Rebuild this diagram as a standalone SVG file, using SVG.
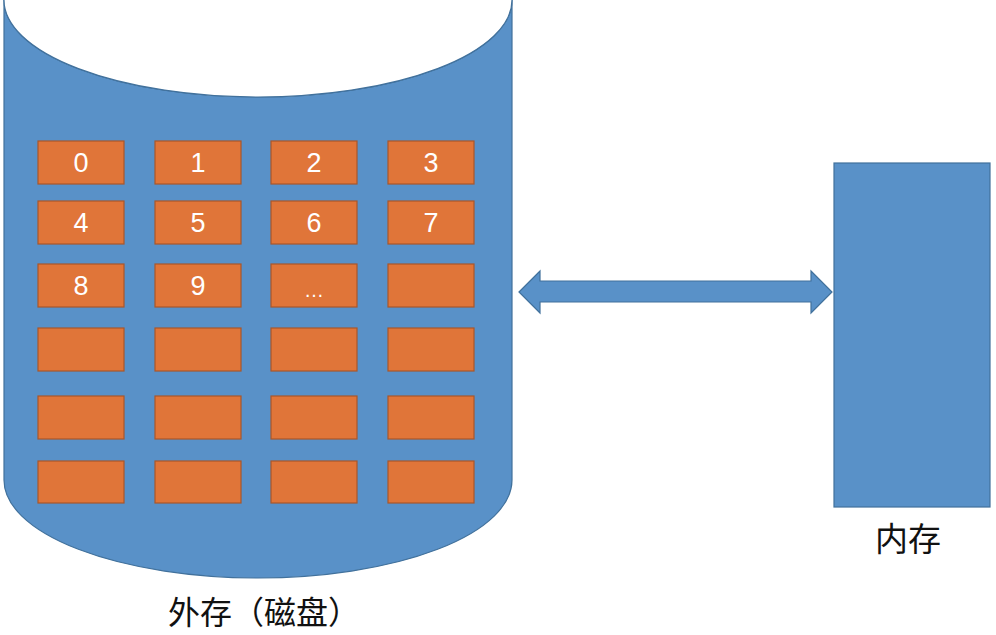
<svg xmlns="http://www.w3.org/2000/svg" width="996" height="635" viewBox="0 0 996 635">
<style>
.blue{fill:#5991C8;stroke:#41719C;stroke-width:1.2}
.blk rect{fill:#E07539;stroke:#A9562A;stroke-width:1.2}
.num{font-family:"Liberation Sans",Arial,sans-serif;font-size:27px;fill:#FFFFFF;text-anchor:middle}
.lbl{font-family:"Noto Sans CJK SC","Noto Sans CJK JP",sans-serif;font-size:32px;fill:#111111;text-anchor:middle}
</style>
<rect width="996" height="635" fill="#FFFFFF"/>
<g id="disk">
<path class="blue" d="M4,0 L4,480 A254,98 0 0 0 512,480 L512,0 A254,97 0 0 1 4,0 Z"/>
<path d="M4,0 A254,97 0 0 0 512,0" fill="#FFFFFF" stroke="#41719C" stroke-width="1.2"/>
</g>
<g id="blocks" class="blk">
<g id="b0"><rect x="38" y="141" width="86" height="43"/><text class="num" x="81" y="172">0</text></g>
<g id="b1"><rect x="155" y="141" width="86" height="43"/><text class="num" x="198" y="172">1</text></g>
<g id="b2"><rect x="271" y="141" width="86" height="43"/><text class="num" x="314" y="172">2</text></g>
<g id="b3"><rect x="388" y="141" width="86" height="43"/><text class="num" x="431" y="172">3</text></g>
<g id="b4"><rect x="38" y="201" width="86" height="43"/><text class="num" x="81" y="232">4</text></g>
<g id="b5"><rect x="155" y="201" width="86" height="43"/><text class="num" x="198" y="232">5</text></g>
<g id="b6"><rect x="271" y="201" width="86" height="43"/><text class="num" x="314" y="232">6</text></g>
<g id="b7"><rect x="388" y="201" width="86" height="43"/><text class="num" x="431" y="232">7</text></g>
<g id="b8"><rect x="38" y="264" width="86" height="43"/><text class="num" x="81" y="295">8</text></g>
<g id="b9"><rect x="155" y="264" width="86" height="43"/><text class="num" x="198" y="295">9</text></g>
<g id="b10"><rect x="271" y="264" width="86" height="43"/><text class="num" x="314" y="297" style="font-size:20px">…</text></g>
<g id="b11"><rect x="388" y="264" width="86" height="43"/></g>
<g id="b12"><rect x="38" y="328" width="86" height="43"/></g>
<g id="b13"><rect x="155" y="328" width="86" height="43"/></g>
<g id="b14"><rect x="271" y="328" width="86" height="43"/></g>
<g id="b15"><rect x="388" y="328" width="86" height="43"/></g>
<g id="b16"><rect x="38" y="396" width="86" height="43"/></g>
<g id="b17"><rect x="155" y="396" width="86" height="43"/></g>
<g id="b18"><rect x="271" y="396" width="86" height="43"/></g>
<g id="b19"><rect x="388" y="396" width="86" height="43"/></g>
<g id="b20"><rect x="38" y="461" width="86" height="42"/></g>
<g id="b21"><rect x="155" y="461" width="86" height="42"/></g>
<g id="b22"><rect x="271" y="461" width="86" height="42"/></g>
<g id="b23"><rect x="388" y="461" width="86" height="42"/></g>
</g>
<g id="memory">
<rect class="blue" x="834" y="163" width="156" height="344"/>
</g>
<g id="connectors">
<path class="blue" d="M519,292 L540,271 L540,281 L811,281 L811,271 L832,292 L811,313 L811,302 L540,302 L540,313 Z"/>
</g>
<g id="labels">
<text class="lbl" x="264" y="624">外存（磁盘）</text>
<text class="lbl" x="908" y="551" style="font-size:33px">内存</text>
</g>
</svg>
